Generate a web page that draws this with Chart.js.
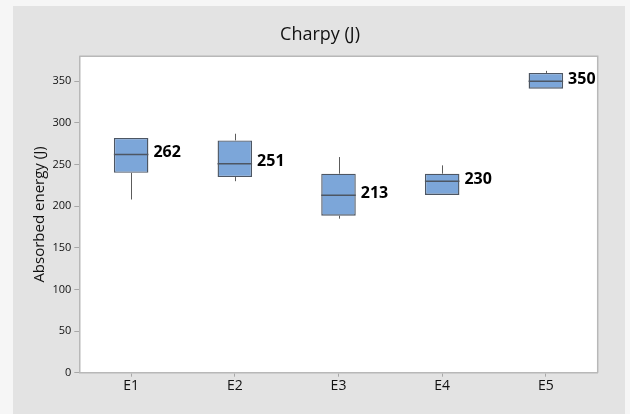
<!DOCTYPE html>
<html>
<head>
<meta charset="utf-8">
<script src="https://cdn.jsdelivr.net/npm/chart.js@4/dist/chart.umd.min.js"></script>
<style>
  html, body { margin: 0; padding: 0; background: #f6f6f6; }
  #wrap { width: 630px; height: 414px; position: relative; }
</style>
</head>
<body>
<div id="wrap"><canvas id="c"></canvas></div>
<script>
// Charpy impact test: absorbed energy per specimen group (box = Q1..Q3)
const categories  = ['E1', 'E2', 'E3', 'E4', 'E5'];
const q1          = [240, 235, 188.5, 213.5, 341];
const q3          = [282, 279, 239, 239, 360];
const medians     = [262, 251, 213, 230, 350];
const whiskerLow  = [208, 230, 185, 213.5, 341];
const whiskerHigh = [282, 287, 259, 249, 362.5];
const yTicks      = [0, 50, 100, 150, 200, 250, 300, 350];

const FONT = "'Open Sans', 'Noto Sans', sans-serif";
const EDGE = '#4d5663';

// Grey panel behind everything, white plot area with a thin frame
const panelPlugin = {
  id: 'panel',
  beforeDraw(chart) {
    const { ctx, chartArea: a } = chart;
    ctx.save();
    ctx.fillStyle = '#e3e3e3';
    ctx.fillRect(13, 6, 612, 420);
    ctx.fillStyle = '#ffffff';
    ctx.fillRect(a.left, a.top, a.right - a.left, a.bottom - a.top);
    ctx.restore();
  },
  afterDraw(chart) {
    const { ctx, chartArea: a } = chart;
    ctx.save();
    ctx.strokeStyle = '#b8b8b8';
    ctx.lineWidth = 1.5;
    ctx.beginPath();
    ctx.moveTo(a.left, a.top);
    ctx.lineTo(a.right, a.top);
    ctx.lineTo(a.right, a.bottom);
    ctx.stroke();
    ctx.restore();
  }
};

// Whiskers behind the boxes, median line and median label on top
const boxPlugin = {
  id: 'boxParts',
  beforeDatasetsDraw(chart) {
    const { ctx, scales: { x, y } } = chart;
    ctx.save();
    ctx.strokeStyle = '#5c5c5c';
    ctx.lineWidth = 1;
    categories.forEach((c, i) => {
      const px = Math.round(x.getPixelForValue(i)) + 0.5;
      ctx.beginPath();
      ctx.moveTo(px, y.getPixelForValue(whiskerHigh[i]));
      ctx.lineTo(px, y.getPixelForValue(q3[i]));
      ctx.moveTo(px, y.getPixelForValue(q1[i]));
      ctx.lineTo(px, y.getPixelForValue(whiskerLow[i]));
      ctx.stroke();
    });
    ctx.restore();
  },
  afterDatasetsDraw(chart) {
    const { ctx, scales: { y } } = chart;
    const meta = chart.getDatasetMeta(0);
    ctx.save();
    categories.forEach((c, i) => {
      const bar = meta.data[i];
      const half = bar.width / 2;
      const py = y.getPixelForValue(medians[i]);
      ctx.strokeStyle = EDGE;
      ctx.lineWidth = 1.5;
      ctx.beginPath();
      ctx.moveTo(bar.x - half, py);
      ctx.lineTo(bar.x + half, py);
      ctx.stroke();
      ctx.fillStyle = '#000000';
      ctx.font = 'bold 16px ' + FONT;
      ctx.textAlign = 'left';
      ctx.textBaseline = 'middle';
      ctx.fillText(String(medians[i]), bar.x + half + 5, py - 2);
    });
    ctx.restore();
  }
};

new Chart(document.getElementById('c'), {
  type: 'bar',
  data: {
    labels: categories,
    datasets: [{
      data: categories.map((c, i) => [q1[i], q3[i]]),
      backgroundColor: '#7ca6d9',
      borderColor: EDGE,
      borderWidth: 1.4,
      borderSkipped: false,
      barPercentage: 1,
      categoryPercentage: 0.333
    }]
  },
  options: {
    responsive: true,
    maintainAspectRatio: false,
    animation: false,
    layout: { padding: { left: 10, right: 0, top: 0, bottom: 0 } },
    plugins: {
      legend: { display: false },
      tooltip: { enabled: false },
      title: {
        display: true,
        text: 'Charpy (J)',
        color: '#111111',
        font: { family: FONT, size: 18, weight: 'normal', lineHeight: 1.2 },
        padding: { top: 24, bottom: 10.7 }
      }
    },
    scales: {
      x: {
        offset: true,
        grid: { display: true, drawOnChartArea: false, drawTicks: true, tickLength: 4, color: '#a8a8a8', offset: false },
        border: { display: true, color: '#b8b8b8', width: 1.5 },
        ticks: { color: '#111111', font: { family: FONT, size: 14 }, padding: 1, maxRotation: 0 },
        afterFit(s) { s.height = 41.3; }
      },
      y: {
        min: 0,
        max: 380,
        afterBuildTicks(s) { s.ticks = yTicks.map(v => ({ value: v })); },
        grid: { display: true, drawOnChartArea: false, drawTicks: true, tickLength: 5, color: '#a8a8a8' },
        border: { display: true, color: '#b8b8b8', width: 1.5 },
        ticks: { color: '#111111', font: { family: FONT, size: 11 }, padding: 3 },
        title: {
          display: true,
          text: 'Absorbed energy (J)',
          color: '#111111',
          font: { family: FONT, size: 15, lineHeight: 1.2 },
          padding: { top: 21, bottom: 0 }
        },
        afterFit(s) { s.width = 69.3; }
      },
      // empty strip on the right so the frame ends where the panel margin starts
      yRight: {
        position: 'right',
        display: true,
        grid: { display: false },
        border: { display: false },
        ticks: { display: false },
        afterFit(s) { s.width = 32.3; }
      }
    }
  },
  plugins: [panelPlugin, boxPlugin]
});
</script>
</body>
</html>
